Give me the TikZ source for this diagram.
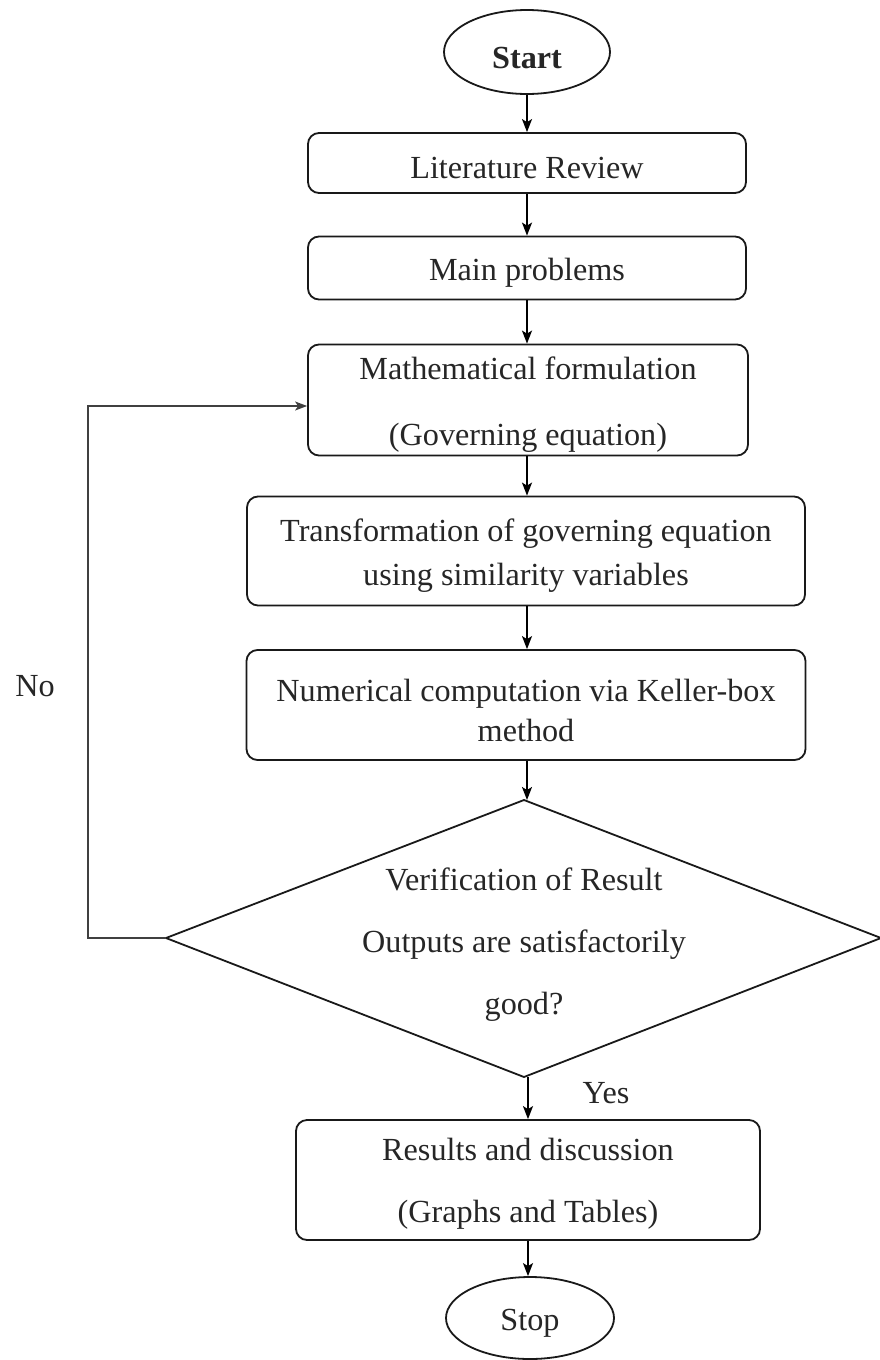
\documentclass[tikz,border=0pt]{standalone}
\usepackage{fontspec}
\setmainfont{Liberation Serif}
\usetikzlibrary{arrows.meta,calc,shapes.geometric}
\begin{document}
\begin{tikzpicture}[x=1pt,y=-1pt,
  every node/.style={font=\fontsize{32.2}{38}\selectfont, text=black!85},
  box/.style={draw=black!90, line width=1.8pt, rounded corners=11pt, align=center, inner sep=0pt},
  txt/.style={align=center, inner sep=0pt, yshift=-5pt},
  term/.style={draw=black!90, line width=1.8pt, ellipse, inner sep=0pt},
  flow/.style={line width=1.5pt, -{Stealth[length=13pt,width=10pt,inset=3pt]}},
  loopline/.style={line width=1.2pt, draw=black!75, -{Stealth[length=12pt,width=9pt,inset=3pt]}},
  lbl/.style={inner sep=0pt}
]
\useasboundingbox (0,0) rectangle (880,1360);
\fill[white] (0,0) rectangle (880,1360);

\node[term, minimum width=166pt, minimum height=84pt, label={[txt, yshift=-1pt]center:\textbf{Start}}] (start) at (527,52) {};
\node[box, minimum width=438pt, minimum height=60pt, label={[txt]center:Literature Review}] (lit) at (527,163) {};
\node[box, minimum width=438pt, minimum height=63pt, label={[txt]center:Main problems}] (main) at (527,268) {};
\node[box, minimum width=440pt, minimum height=111pt, label={[txt]center:{Mathematical formulation\\[28pt](Governing equation)}}] (math) at (528,400) {};
\node[box, minimum width=558pt, minimum height=109pt, label={[txt]center:{Transformation of governing equation\\[6pt]using similarity variables}}] (trans) at (526,551) {};
\node[box, minimum width=559pt, minimum height=110pt, label={[txt]center:{Numerical computation via Keller-box\\[2pt]method}}] (num) at (526,705) {};

\coordinate (dt) at (524,800);
\coordinate (dl) at (166,938);
\coordinate (dr) at (881,938);
\coordinate (db) at (524,1077);
\draw[line width=1.8pt, draw=black!90, line join=miter] (dt) -- (dr) -- (db) -- (dl) -- cycle;
\node[txt, yshift=2pt] (verif) at (524,942) {Verification of Result\\[24pt]Outputs are satisfactorily\\[24pt]good?};

\node[box, minimum width=464pt, minimum height=120pt, label={[txt, yshift=1pt]center:{Results and discussion\\[24pt](Graphs and Tables)}}] (res) at (528,1180) {};
\node[term, minimum width=168pt, minimum height=82pt, label={[txt]center:Stop}] (stop) at (530,1318) {};

\draw[flow] (start.south) -- (lit.north -| start.south);
\draw[flow] (lit.south) -- (main.north);
\draw[flow] (main.south) -- (math.north -| main.south);
\draw[flow] (math.south -| main.south) -- (trans.north -| main.south);
\draw[flow] (trans.south -| main.south) -- (num.north -| main.south);
\draw[flow] (num.south -| main.south) -- (dt -| main.south);
\draw[flow] (db -| res.north) -- (res.north);
\draw[flow] (res.south) -- (stop.north -| res.south);

\coordinate (lc) at (88,938);
\draw[loopline] (dl) -- (lc) |- ($(math.west)+(0,6)$);

\node[lbl] (no) at (35,686) {No};
\node[lbl] (yes) at (606,1093) {Yes};
\end{tikzpicture}
\end{document}
